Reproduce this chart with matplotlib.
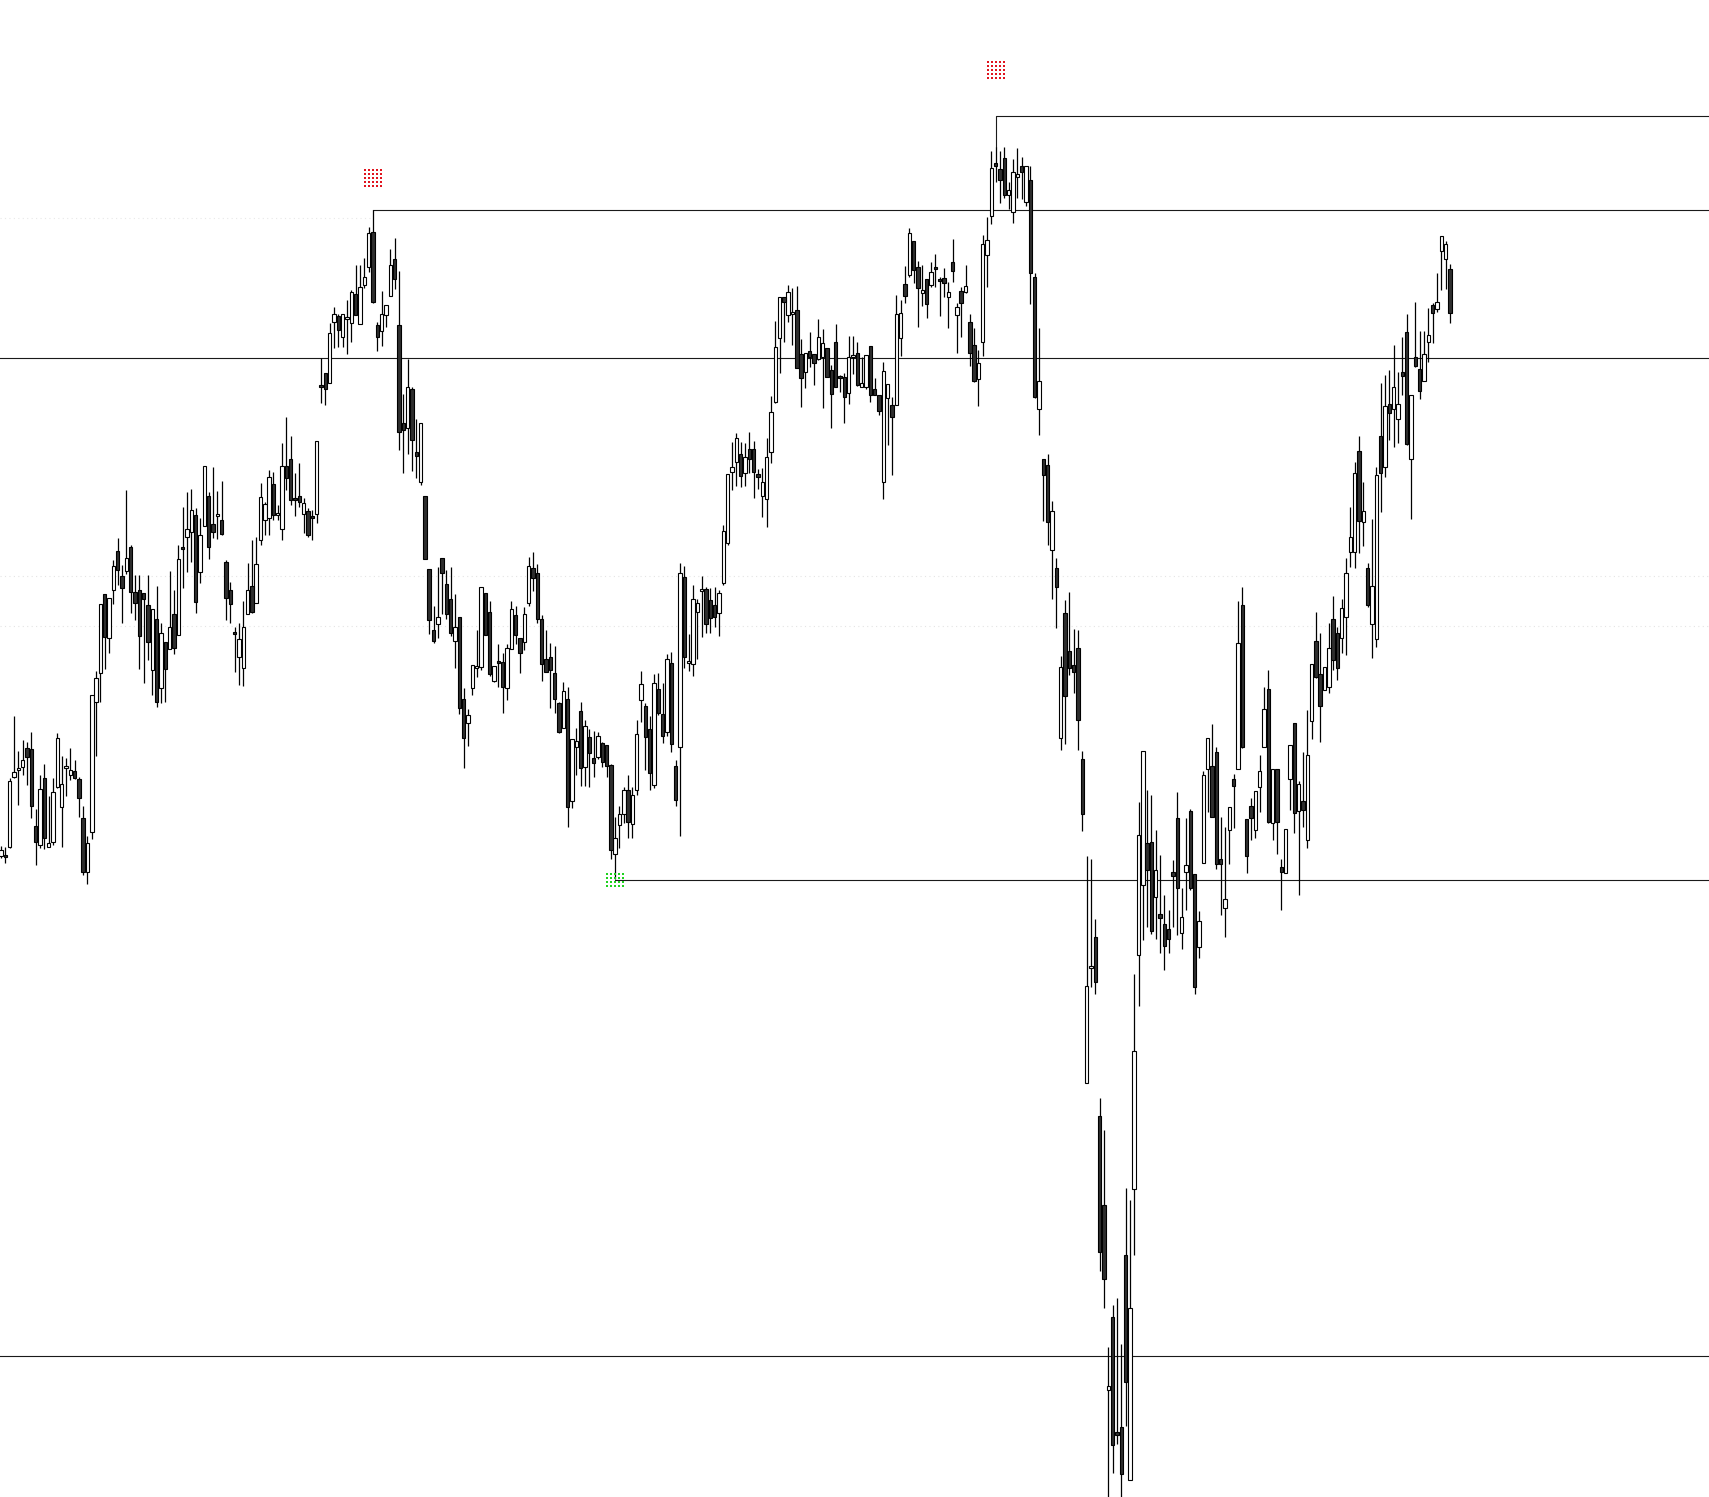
import numpy as np
import matplotlib
matplotlib.use("Agg")
import matplotlib.pyplot as plt

# OHLC (price units, one entry per candle)
opens = [
    644, 645, 653, 723, 730, 733, 752, 751, 674, 655,
    722, 653, 658, 713, 693, 732, 725, 729, 721, 682,
    628, 668, 798, 827, 906, 862, 910, 949, 924, 929,
    953, 908, 910, 907, 895, 830, 881, 812, 858, 851,
    886, 865, 953, 963, 968, 985, 928, 974, 1004, 976,
    984, 980, 938, 910, 868, 843, 832, 886, 914, 897,
    960, 980, 982, 1016, 985, 971, 1034, 1041, 1002, 1004,
    986, 989, 984, 986, 1115, 1127, 1117, 1178, 1184, 1163,
    1181, 1177, 1206, 1176, 1215, 1233, 1268, 1175, 1169, 1185,
    1204, 1241, 1175, 1077, 1072, 1111, 1048, 1018, 1004, 931,
    870, 876, 942, 916, 901, 859, 883, 801, 777, 812,
    832, 833, 907, 888, 819, 839, 838, 812, 851, 885,
    862, 858, 897, 932, 927, 881, 841, 843, 827, 797,
    772, 801, 699, 753, 789, 733, 763, 742, 743, 757,
    755, 735, 646, 675, 686, 710, 676, 710, 800, 794,
    771, 715, 811, 786, 768, 837, 734, 753, 923, 837,
    836, 888, 909, 911, 900, 895, 887, 917, 957, 1028,
    1038, 1046, 1027, 1051, 1051, 1026, 1004, 1001, 1048, 1098,
    1162, 1203, 1185, 1186, 1190, 1146, 1128, 1149, 1146, 1141,
    1143, 1152, 1130, 1158, 1124, 1123, 1107, 1143, 1147, 1113,
    1113, 1154, 1111, 1105, 1018, 1102, 1095, 1095, 1162, 1216,
    1225, 1259, 1233, 1207, 1221, 1215, 1233, 1221, 1222, 1203,
    1238, 1185, 1209, 1208, 1178, 1155, 1121, 1158, 1245, 1284,
    1337, 1331, 1342, 1305, 1288, 1323, 1334, 1298, 1320, 1223,
    1091, 1041, 1035, 950, 932, 762, 887, 849, 835, 852,
    741, 417, 532, 563, 384, 295, 110, 183, 68, 73,
    245, 20, 311, 545, 615, 657, 658, 603, 586, 576,
    571, 628, 682, 567, 628, 689, 626, 553, 637, 731,
    734, 748, 641, 592, 670, 721, 731, 895, 681, 694,
    670, 713, 753, 811, 677, 731, 633, 627, 721, 777,
    689, 699, 660, 779, 859, 826, 810, 813, 881, 867,
    862, 883, 948, 948, 1049, 978, 932, 876, 861, 1064,
    1033, 1096, 1091, 1081, 1128, 1168, 1041, 1143, 1131, 1119,
    1158, 1195, 1191, 1249, 1241, 1231,
]
highs = [
    654, 653, 722, 784, 749, 760, 758, 768, 691, 725,
    736, 704, 722, 767, 744, 742, 752, 740, 723, 694,
    664, 805, 829, 896, 906, 902, 940, 962, 935, 1010,
    955, 925, 925, 907, 925, 891, 914, 877, 858, 929,
    910, 955, 993, 1008, 1011, 992, 982, 1034, 1008, 1033,
    1009, 1019, 940, 918, 873, 877, 899, 937, 960, 963,
    1017, 998, 1030, 1028, 995, 1057, 1083, 1064, 1027, 1037,
    1002, 992, 990, 1059, 1142, 1127, 1177, 1193, 1186, 1186,
    1200, 1210, 1235, 1235, 1242, 1273, 1290, 1178, 1209, 1195,
    1251, 1262, 1229, 1106, 1141, 1113, 1081, 1077, 1004, 931,
    894, 933, 942, 930, 933, 906, 883, 812, 791, 835,
    870, 913, 907, 899, 834, 856, 847, 856, 899, 894,
    862, 893, 943, 948, 936, 885, 870, 857, 854, 798,
    818, 813, 761, 772, 798, 780, 771, 769, 768, 758,
    755, 736, 683, 694, 713, 725, 713, 780, 829, 797,
    784, 826, 827, 817, 846, 848, 740, 937, 934, 866,
    915, 901, 924, 913, 912, 913, 910, 975, 1026, 1058,
    1067, 1058, 1057, 1068, 1059, 1031, 1032, 1062, 1104, 1179,
    1203, 1203, 1215, 1212, 1214, 1161, 1147, 1168, 1146, 1181,
    1171, 1152, 1135, 1176, 1125, 1127, 1164, 1164, 1158, 1143,
    1145, 1154, 1122, 1105, 1138, 1116, 1103, 1205, 1200, 1234,
    1272, 1259, 1239, 1235, 1221, 1238, 1246, 1223, 1232, 1218,
    1261, 1197, 1213, 1235, 1186, 1172, 1150, 1265, 1283, 1349,
    1353, 1349, 1353, 1318, 1341, 1352, 1343, 1334, 1334, 1227,
    1172, 1041, 1046, 999, 942, 844, 900, 908, 871, 870,
    749, 644, 641, 581, 402, 370, 153, 195, 202, 156,
    312, 300, 526, 698, 749, 710, 705, 670, 645, 605,
    590, 640, 708, 612, 682, 691, 626, 589, 729, 762,
    776, 753, 683, 673, 693, 726, 899, 913, 681, 702,
    709, 745, 813, 830, 731, 731, 641, 671, 755, 777,
    719, 748, 790, 836, 888, 867, 833, 877, 904, 873,
    901, 942, 993, 1038, 1064, 1018, 937, 981, 1033, 1117,
    1125, 1130, 1155, 1128, 1163, 1186, 1105, 1198, 1169, 1169,
    1192, 1197, 1227, 1264, 1259, 1236,
]
lows = [
    642, 637, 652, 722, 695, 725, 715, 682, 635, 652,
    651, 653, 655, 712, 653, 704, 720, 721, 683, 625,
    616, 661, 744, 798, 831, 847, 896, 915, 877, 926,
    887, 880, 831, 817, 840, 805, 793, 797, 798, 851,
    846, 865, 912, 928, 938, 887, 917, 974, 941, 962,
    961, 965, 880, 877, 828, 815, 814, 886, 887, 897,
    955, 965, 965, 980, 980, 960, 1010, 995, 984, 993,
    967, 963, 960, 977, 1097, 1095, 1117, 1152, 1153, 1153,
    1146, 1158, 1185, 1176, 1212, 1228, 1197, 1149, 1154, 1173,
    1204, 1211, 1050, 1027, 1046, 1029, 1022, 1015, 941, 866,
    857, 862, 886, 881, 864, 832, 786, 732, 754, 805,
    823, 830, 865, 824, 818, 813, 787, 800, 851, 856,
    827, 850, 894, 909, 877, 819, 828, 792, 787, 767,
    772, 673, 692, 725, 714, 714, 713, 723, 741, 733,
    723, 641, 621, 652, 677, 662, 662, 705, 778, 730,
    710, 712, 785, 757, 764, 748, 694, 664, 832, 829,
    824, 841, 863, 867, 867, 873, 864, 915, 955, 1010,
    1014, 1013, 1014, 1027, 1002, 1011, 983, 973, 1037, 1097,
    1127, 1158, 1178, 1155, 1132, 1093, 1112, 1133, 1115, 1140,
    1092, 1123, 1072, 1113, 1108, 1077, 1096, 1126, 1114, 1113,
    1111, 1098, 1105, 1085, 1001, 1055, 1025, 1095, 1144, 1197,
    1223, 1217, 1173, 1194, 1182, 1213, 1213, 1184, 1203, 1172,
    1218, 1147, 1163, 1207, 1134, 1118, 1094, 1144, 1213, 1276,
    1318, 1297, 1302, 1291, 1277, 1302, 1301, 1294, 1196, 1102,
    1065, 979, 955, 901, 872, 750, 756, 825, 807, 750,
    669, 417, 513, 506, 229, 192, 0, 27, 56, 0,
    74, 20, 245, 494, 560, 573, 566, 561, 547, 530,
    547, 573, 565, 551, 590, 610, 506, 542, 637, 688,
    683, 631, 585, 563, 636, 672, 731, 752, 627, 660,
    662, 688, 753, 677, 660, 646, 590, 627, 690, 667,
    605, 673, 652, 761, 822, 758, 810, 807, 830, 820,
    847, 845, 933, 932, 947, 954, 893, 842, 853, 988,
    1023, 1060, 1053, 1057, 1105, 1055, 981, 1133, 1101, 1119,
    1138, 1157, 1188, 1210, 1211, 1177,
]
closes = [
    650, 643, 719, 728, 732, 740, 743, 694, 658, 711,
    662, 657, 708, 762, 716, 734, 730, 722, 702, 628,
    657, 805, 822, 896, 863, 902, 934, 930, 912, 942,
    908, 897, 864, 901, 858, 891, 798, 867, 831, 873,
    852, 941, 951, 971, 990, 898, 965, 1034, 953, 968,
    986, 966, 902, 896, 866, 861, 873, 910, 888, 936,
    1003, 996, 1023, 985, 987, 1034, 1022, 1000, 1000, 998,
    997, 965, 982, 1059, 1113, 1111, 1167, 1186, 1170, 1186,
    1183, 1208, 1185, 1213, 1223, 1267, 1198, 1163, 1186, 1195,
    1235, 1221, 1068, 1070, 1113, 1060, 1044, 1077, 941, 880,
    859, 883, 927, 886, 867, 873, 792, 762, 785, 835,
    834, 913, 865, 826, 834, 837, 813, 852, 891, 865,
    847, 886, 934, 922, 881, 836, 828, 830, 801, 768,
    809, 693, 761, 759, 732, 774, 747, 737, 764, 738,
    734, 650, 662, 686, 710, 678, 705, 766, 816, 763,
    727, 817, 787, 764, 841, 756, 700, 927, 843, 839,
    901, 897, 911, 876, 882, 883, 907, 969, 1026, 1033,
    1062, 1024, 1043, 1041, 1028, 1023, 1018, 1043, 1088, 1153,
    1203, 1198, 1208, 1188, 1132, 1122, 1147, 1143, 1137, 1163,
    1157, 1123, 1106, 1113, 1122, 1103, 1143, 1145, 1115, 1117,
    1145, 1105, 1105, 1089, 1129, 1116, 1083, 1186, 1187, 1204,
    1267, 1230, 1212, 1210, 1196, 1228, 1231, 1219, 1217, 1208,
    1229, 1193, 1197, 1214, 1147, 1119, 1137, 1256, 1260, 1332,
    1334, 1320, 1305, 1310, 1328, 1326, 1328, 1334, 1227, 1103,
    1119, 1025, 978, 989, 913, 833, 804, 832, 828, 780,
    686, 514, 534, 518, 248, 221, 114, 55, 65, 26,
    118, 192, 449, 665, 749, 630, 569, 630, 582, 554,
    561, 624, 612, 583, 635, 612, 513, 579, 725, 762,
    683, 636, 636, 601, 693, 714, 857, 753, 644, 682,
    709, 729, 791, 678, 731, 678, 628, 671, 755, 687,
    716, 690, 745, 836, 823, 794, 833, 852, 840, 832,
    892, 927, 963, 1027, 979, 989, 895, 914, 1025, 1027,
    1094, 1087, 1113, 1096, 1124, 1056, 1105, 1134, 1109, 1146,
    1165, 1187, 1198, 1264, 1256, 1187,
]

# horizontal levels
full_levels = [1142.5, 144.0]
swing_high_idx = [86, 230]
swing_high_lvl = [1290.0, 1384.5]
swing_low_idx = [142]
swing_low_lvl = [620.0]
zone_lvls = [924.0, 874.0]

# swing markers (index, price)
red_marks = [(86, 1322), (230, 1430)]
green_marks = [(142, 620)]

n = len(opens)
assert len(highs) == n and len(lows) == n and len(closes) == n

o = np.array(opens, float)
h = np.array(highs, float)
l = np.array(lows, float)
c = np.array(closes, float)
x = np.arange(n)

fig = plt.figure(figsize=(17.09, 14.97), dpi=100)
ax = fig.add_axes([0, 0, 1, 1])
ax.set_xlim(-0.23, 394.9)
ax.set_ylim(3, 1500)
ax.axis("off")

# faint zone lines
for z in zone_lvls:
    ax.axhline(z, color="#e4e4e4", lw=0.8, ls=(0, (1, 3)), zorder=0)
ax.plot([-0.23, 86], [1282, 1282], color="#e8e8e8", lw=0.8, ls=(0, (1, 3)), zorder=0)

# levels
for lv in full_levels:
    ax.axhline(lv, color="#1a1a1a", lw=0.8, zorder=1)
for i, lv in zip(swing_high_idx, swing_high_lvl):
    ax.plot([i, i, 400], [h[i], lv, lv], color="#1a1a1a", lw=0.8, zorder=1)
for i, lv in zip(swing_low_idx, swing_low_lvl):
    ax.plot([i, 400], [lv, lv], color="#1a1a1a", lw=0.8, zorder=1)

# candles
up = c >= o
ax.vlines(x, l, h, color="black", lw=0.9, zorder=2)
body_lo = np.minimum(o, c)
body_h = np.maximum(np.abs(c - o), 1.0)
ax.bar(x[up], body_h[up], bottom=body_lo[up], width=0.78,
       color="white", edgecolor="black", linewidth=0.8, zorder=3)
ax.bar(x[~up], body_h[~up], bottom=body_lo[~up], width=0.78,
       color="#2e2e2e", edgecolor="black", linewidth=0.8, zorder=3)


def grid_marker(ix, py, color, rows):
    gx, gy = np.meshgrid(np.arange(5) - 2, np.arange(rows) - (rows - 1) / 2)
    ax.scatter(ix + gx.ravel() * 0.95, py + gy.ravel() * 4.0, s=3.5, marker="s",
               color=color, linewidths=0, zorder=4)


for ix, py in red_marks:
    grid_marker(ix, py, "#e0141e", 5)
for ix, py in green_marks:
    grid_marker(ix, py, "#1ed21e", 4)

fig.savefig("out.png", dpi=100, facecolor="white")
